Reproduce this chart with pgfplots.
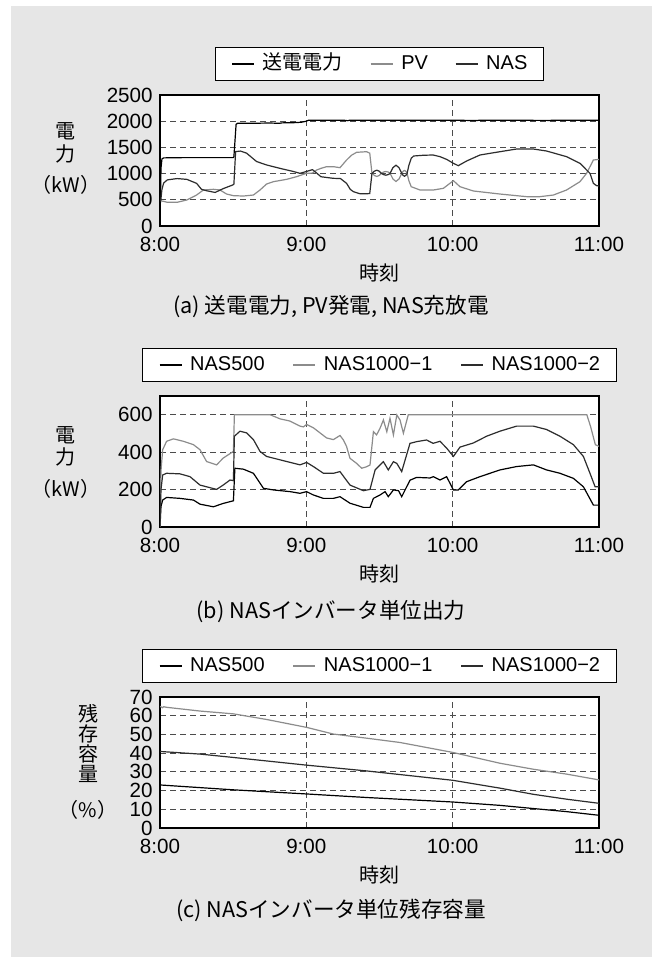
\documentclass[border=0pt]{standalone}
\usepackage{fontspec}
\setmainfont{Liberation Sans}
\newfontfamily\jp{Noto Sans CJK JP}
\usepackage{pgfplots}
\pgfplotsset{compat=1.18}
\definecolor{bg}{RGB}{230,230,230}
\definecolor{cgray}{RGB}{140,140,140}
\definecolor{cdark}{RGB}{45,45,45}
\pgfplotsset{
 panel/.style={
  scale only axis, width=219.5pt, height=65.5pt, anchor=north west,
  xmin=0, xmax=180, xtick={0,60,120,180}, xticklabels={8:00,9:00,10:00,11:00},
  axis background/.style={fill=white},
  axis line style={black, line width=0.6pt},
  major tick length=0pt,
  grid=major,
  major grid style={black!70, line width=0.45pt, dash pattern=on 3pt off 2pt},
  tick label style={font=\fontsize{10.3}{12}\selectfont},
  /pgf/number format/assume math mode=true,
  /pgf/number format/1000 sep={},
  yticklabel style={inner sep=0pt, xshift=-3.5pt},
  xticklabel style={inner sep=0pt, yshift=-5.3pt},
  xlabel={\jp 時刻},
  xlabel style={at={(axis description cs:0.5,0)}, anchor=center, yshift=-23.5pt, font=\fontsize{10}{12}\selectfont, inner sep=0pt},
  legend columns=3,
  legend cell align=left,
  legend style={at={(0.5,1)}, anchor=south, yshift=7pt, draw=black, line width=0.5pt, fill=white,
    inner xsep=8pt, inner ysep=3.5pt, column sep=0pt, font=\fontsize{10}{12}\selectfont,
    nodes={inner sep=0pt, text height=7.6pt, text depth=2pt}},
  legend image code/.code={\draw[#1, line width=0.7pt] (0pt,0pt) -- (11pt,0pt); \path (15pt,0pt);},
  every axis plot/.append style={line width=0.6pt},
 }
}
\begin{document}
\begin{tikzpicture}
\path[fill=white] (0pt,0pt) rectangle (326pt,-478.5pt);
\fill[bg] (5.5pt,-3pt) rectangle (326pt,-478.5pt);

% ---------------- Panel (a)
\begin{axis}[panel, at={(80pt,-47.5pt)}, ymin=0, ymax=2500, ytick={0,500,1000,1500,2000,2500}]
\addplot[black] coordinates {(0,0) (0.4,1100) (0.8,1280) (1.5,1300) (10,1305) (20,1305) (30,1305) (30.3,1320) (31.2,1940) (31.8,1960) (40,1962) (45,1965) (49,1960) (50,1968) (55,1972) (58,1980) (60,2000) (61,2020) (75,2020) (77,2010) (78,2020) (100,2020) (120,2020) (130,2012) (131,2020) (160,2015) (161,2020) (180,2020)};
\addlegendentry{{\jp 送電電力}\hspace*{13.5pt}}
\addplot[cgray] coordinates {(0.3,480) (1.5,470) (3,452) (7,452) (11,496) (15,591) (17.8,687) (21.9,700) (24.6,687) (27.3,610) (30.1,579) (34.2,572) (38.3,591) (41,687) (43.7,801) (46.5,846) (51.9,890) (56,941) (60,1005) (62.5,1010) (64.2,1068) (66,1100) (68.3,1132) (71.1,1132) (73.8,1113) (76.5,1259) (78.5,1350) (80.6,1406) (84.7,1418) (86,1390) (86.9,1010)
 (87.9,964) (88.9,945) (89.9,964) (90.9,1010) (91.75,1031) (92.6,1040) (93.45,1031) (94.3,1010) (95.5,897) (96.75,850) (98,897) (99.2,1010) (99.7,1045) (100.25,1060) (100.8,1045) (101.3,1010)
 (102,870) (103,750) (106.6,687) (112.1,687) (116.2,719) (120.3,865) (123,750) (128.5,668) (139.4,610) (150.3,560) (155.8,560) (161.3,591) (166.7,687) (172.2,846) (174.9,1005) (177.7,1259) (180,1272)};
\addlegendentry{PV\hspace*{13.5pt}}
\addplot[cdark] coordinates {(0.3,480) (0.8,700) (1.5,820) (3,880) (7,905) (11,890) (15,814) (17,700) (19,674) (22.6,640) (26,715) (29.8,782) (30.3,800) (31,1420) (33,1430) (35.5,1390) (39.6,1230) (43.7,1165) (49.2,1100) (54.7,1040) (57.4,1005) (60,1040) (62.5,1075) (64,1020) (66,940) (71,910) (74,905) (76.5,814) (78,700) (79.3,655) (82,615) (84.7,615) (86,620) (86.9,1000)
 (87.9,1046) (88.9,1065) (89.9,1046) (90.9,1000) (91.75,979) (92.6,970) (93.45,979) (94.3,1000) (95.5,1113) (96.75,1160) (98,1113) (99.2,1000) (99.7,965) (100.25,950) (100.8,965) (101.3,1000)
 (102,1150) (103,1291) (104,1336) (108,1350) (112,1355) (114.8,1323) (117.5,1272) (120.3,1196) (122.3,1151) (125.7,1240) (131.2,1355) (139.4,1418) (146.2,1469) (153.1,1469) (158.5,1431) (166.7,1323) (172.2,1196) (176.3,1005) (177.7,814) (179,770) (180,763)};
\addlegendentry{NAS}
\end{axis}

% ---------------- Panel (b)
\begin{axis}[panel, at={(80pt,-198pt)}, ymin=0, ymax=700, ytick={0,200,400,600}]
\addplot[black] coordinates {(0,0) (0.4,110) (1.1,144) (2.7,158) (8.2,153) (13.7,144) (16.4,122) (21.9,108) (25.9,126) (30.1,140) (30.7,314) (34.2,309) (38.3,287) (42.4,207) (46.5,198) (53.3,189) (57.4,180) (60.1,189) (62.9,171) (67,153) (71.1,153) (73.8,162) (77.9,127) (83.4,105) (86.1,105) (87.5,153) (90.2,171) (92.3,189) (93.6,162) (95.7,198) (97.8,194) (99.1,162) (102.5,250) (105.2,265) (110.7,262) (112.1,269) (114.8,251) (117.5,269) (120.3,198) (122.3,198) (125.7,242) (131.2,269) (139.4,305) (146.2,323) (153.1,332) (158.5,305) (164,287) (169.5,260) (173.6,215) (177.7,117) (180,117)};
\addlegendentry{NAS500\hspace*{14pt}}
\addplot[cgray] coordinates {(0,0) (0.4,300) (1.1,413) (2.7,458) (5.5,471) (9.6,458) (13.7,440) (16.4,413) (19.1,350) (23.2,332) (25.9,368) (30.1,404) (30.5,600) (45.1,600) (49.2,578) (53.3,566) (57.4,539) (58.8,535) (60.1,548) (62.9,530) (68.3,476) (71.1,467) (73.8,489) (75.2,465) (76.5,430) (77.9,367) (80.6,340) (82.7,314) (84.7,322) (86.1,331) (87.5,509) (88.8,492) (90.2,527) (91.6,572) (93.0,509) (94.3,581) (95.7,492) (97.1,599) (98.4,572) (99.8,501) (101.8,600) (175,600) (176.5,539) (178.5,440) (180,431)};
\addlegendentry{NAS1000\symbol{"2212}1\hspace*{14pt}}
\addplot[cdark] coordinates {(0,0) (0.4,200) (1.1,278) (2.7,287) (8.2,284) (12.3,269) (16.4,224) (23.2,201) (25.9,224) (28.7,251) (30.1,248) (30.5,485) (32.8,512) (35.5,503) (38.3,467) (41,404) (43.7,377) (49.2,359) (54.7,341) (57.4,332) (60.1,345) (62.9,323) (67,287) (71.1,287) (73.8,296) (77.9,224) (83.4,194) (86.1,201) (88.2,305) (90.2,331) (91.6,349) (93.6,305) (95.7,349) (97.1,340) (99.1,296) (102.5,447) (105.2,456) (109.3,465) (112,447) (114.8,458) (117.5,422) (120.3,377) (123,427) (128.5,449) (133.9,485) (139.4,512) (146.2,539) (153.1,539) (158.5,521) (164,485) (169.5,440) (173.6,377) (176.3,287) (178.4,215) (180,215)};
\addlegendentry{NAS1000\symbol{"2212}2}
\end{axis}

% ---------------- Panel (c)
\begin{axis}[panel, at={(80pt,-348.5pt)}, ymin=0, ymax=70, ytick={0,10,20,30,40,50,60,70}]
\addplot[black] coordinates {(0,23) (30.1,20.4) (60,18.2) (84.7,16.3) (120,13.9) (139.4,12.1) (153.1,10.4) (166.7,8.75) (180,6.8)};
\addlegendentry{NAS500\hspace*{14pt}}
\addplot[cgray] coordinates {(0,65) (1,64.3) (1.5,64.8) (2.7,64.5) (16.4,62.5) (30.1,61) (43.7,58) (60,53.8) (71.1,50.2) (84.7,48) (98.4,45.7) (120,40.4) (139.4,34.6) (153.1,31.4) (166.7,28.8) (180,25.7)};
\addlegendentry{NAS1000\symbol{"2212}1\hspace*{14pt}}
\addplot[cdark] coordinates {(0,40.9) (16.4,39.5) (30.1,37.7) (60,33.6) (84.7,30.5) (120,25.5) (139.4,21.3) (153.1,18) (166.7,15.4) (180,13.2)};
\addlegendentry{NAS1000\symbol{"2212}2}
\end{axis}

% ---------------- y labels and captions
\begin{scope}[every node/.style={inner sep=0pt, font=\jp\fontsize{10}{12}\selectfont}]
\node at (32.7pt,-65.4pt) {電};
\node at (32.7pt,-77pt) {力};
\node at (33pt,-92.5pt) {（kW）};
\node at (32.7pt,-217.8pt) {電};
\node at (32.7pt,-228.3pt) {力};
\node at (33pt,-244.5pt) {（kW）};
\node at (44pt,-357pt) {残};
\node at (44pt,-367pt) {存};
\node at (44pt,-377pt) {容};
\node at (44pt,-387pt) {量};
\node at (44pt,-405pt) {（\%）};
\end{scope}
\begin{scope}[every node/.style={inner sep=0pt, font=\jp\fontsize{10.8}{12}\selectfont}]
\node at (165.5pt,-153.5pt) {(a) 送電電力, PV発電, NAS充放電};
\node at (165.5pt,-306pt) {(b) NASインバータ単位出力};
\node at (165.5pt,-455pt) {(c) NASインバータ単位残存容量};
\end{scope}
\end{tikzpicture}
\end{document}
